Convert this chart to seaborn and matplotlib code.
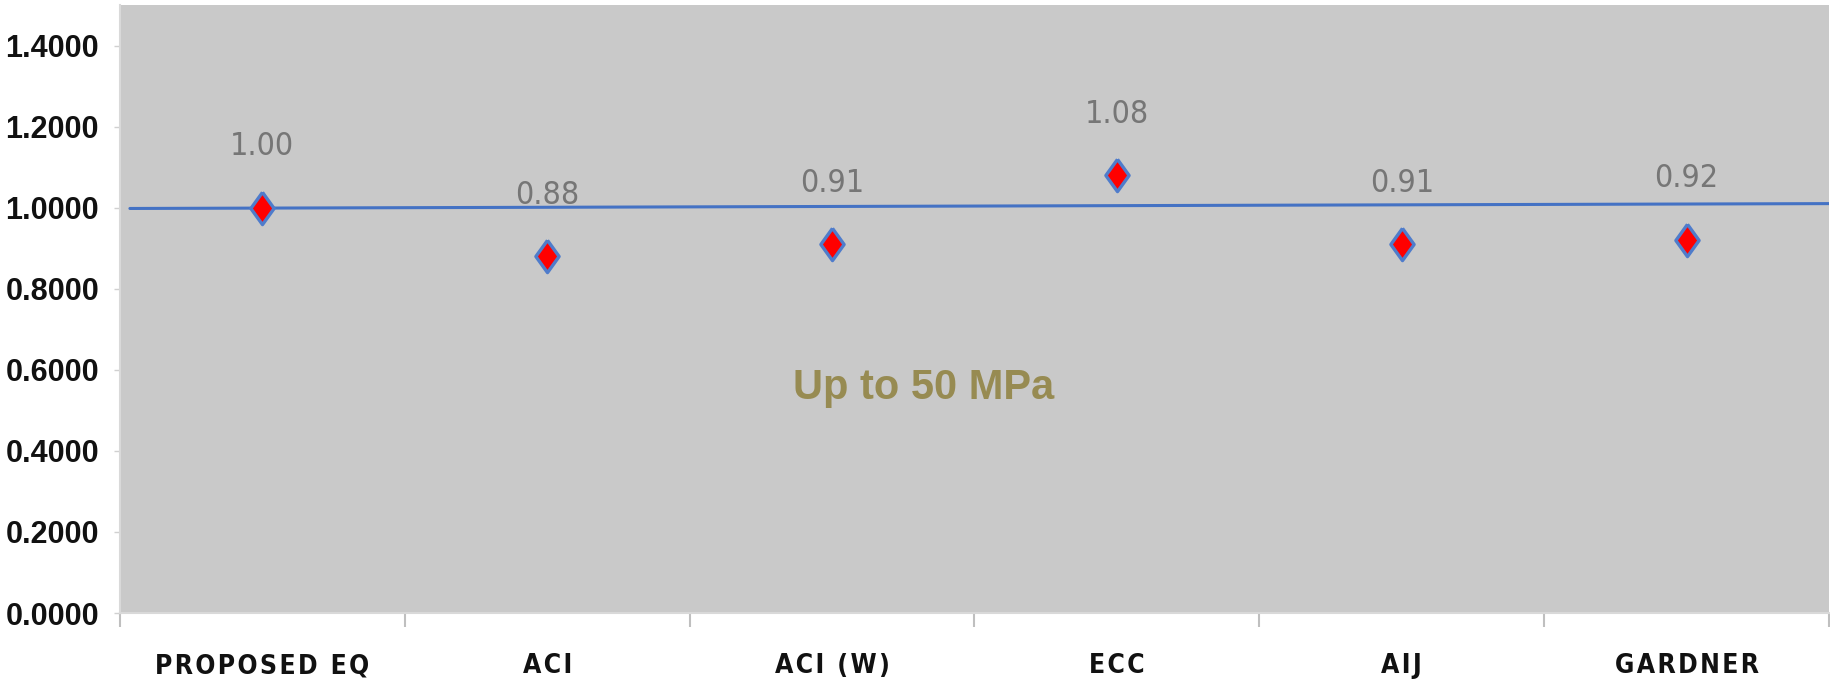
import numpy as np
import pandas as pd
import matplotlib
matplotlib.use("Agg")
import matplotlib.pyplot as plt
from matplotlib.markers import MarkerStyle
import seaborn as sns

# Ratio of predicted to experimental values for each design equation
categories = ["PROPOSED EQ", "ACI", "ACI (W)", "ECC", "AIJ", "GARDNER"]
ratios = [1.00, 0.88, 0.91, 1.08, 0.91, 0.92]
value_labels = ["1.00", "0.88", "0.91", "1.08", "0.91", "0.92"]

# Unity reference line (slightly inclined trend)
ref_x = [-0.465, 5.5]
ref_y = [0.998, 1.010]

y_ticks = [0.0, 0.2, 0.4, 0.6, 0.8, 1.0, 1.2, 1.4]
annotation = "Up to 50 MPa"

sns.set_style("white")
plt.rcParams["font.family"] = ["DejaVu Sans"]
plt.rcParams["font.stretch"] = "condensed"
sans = ["Liberation Sans", "DejaVu Sans"]

fig = plt.figure(figsize=(18.31, 6.84), dpi=100)
ax = fig.add_axes([0.0655, 0.1038, 0.9334, 0.8889])
ax.set_facecolor("#C9C9C9")

df = pd.DataFrame({"x": np.arange(len(categories)), "ratio": ratios})

diamond = MarkerStyle([(0, 1), (0.72, 0), (0, -1), (-0.72, 0), (0, 1)])

sns.lineplot(x=ref_x, y=ref_y, ax=ax, color="#4472C4", linewidth=2.2)
sns.scatterplot(data=df, x="x", y="ratio", ax=ax, marker=diamond, s=540,
                color="#FF0000", edgecolor="#4F7CCB", linewidth=2.4, zorder=5)

for xi, yi, lab in zip(df["x"], df["ratio"], value_labels):
    ax.annotate(lab, (xi, yi), xytext=(0, 44), textcoords="offset points",
                ha="center", va="center", fontsize=23, color="#767676",
                fontstretch="condensed")

ax.text(2.32, 0.555, annotation, ha="center", va="center", fontsize=30,
        fontweight="bold", color="#978B52", fontstretch="normal", family=sans)

ax.set_xlim(-0.5, 5.5)
ax.set_ylim(0, 1.5)

ax.set_yticks(y_ticks)
ax.set_yticklabels([f"{v:.4f}" for v in y_ticks], fontsize=22, fontweight="bold",
                   family=sans, color="#111111")

# Category labels centred, tick marks drawn at the category boundaries
spaced = ["\u200a".join(list(c)) for c in categories]
ax.set_xticks(df["x"])
ax.set_xticklabels(spaced, fontsize=19, fontweight="bold", fontstretch="condensed",
                   color="#111111")
ax.tick_params(axis="x", which="major", length=0, pad=29)
ax.set_xticks(np.arange(-0.5, len(categories), 1.0), minor=True)
ax.tick_params(axis="x", which="minor", length=10, width=1.5, color="#BFBFBF",
               direction="out", bottom=True)
ax.tick_params(axis="y", which="major", length=4, width=1, color="#D0D0D0",
               direction="out", left=True, pad=11)

ax.set_xlabel("")
ax.set_ylabel("")
for side in ["top", "right"]:
    ax.spines[side].set_visible(False)
for side in ["left", "bottom"]:
    ax.spines[side].set_color("#D9D9D9")
    ax.spines[side].set_linewidth(1.5)
    ax.spines[side].set_linestyle((0, (2, 1)))

fig.savefig("out.png", dpi=100, facecolor="white")
